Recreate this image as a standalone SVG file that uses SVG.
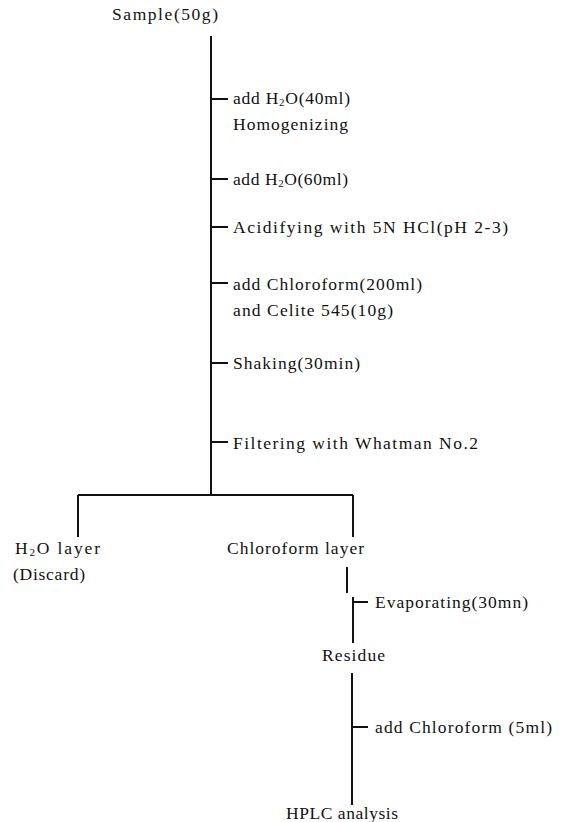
<svg xmlns="http://www.w3.org/2000/svg" width="566" height="822" viewBox="0 0 566 822">
<style>
text{font-family:"Liberation Serif","DejaVu Serif",serif;font-size:17.5px;fill:#111}
.ln{stroke:#111;stroke-width:2;fill:none}
.sub{font-size:11px}
</style>
<rect width="566" height="822" fill="#fff"/>
<g id="connectors">
<path class="ln" d="M211 36V495"/>
<path class="ln" d="M211 99H228M211 179H228M211 227H228M211 283H228M211 363H228M211 442H228"/>
<path class="ln" d="M78 495H353M78 495V537M353 495V537"/>
<path class="ln" d="M347 567V593M353 597V643M353 602H368"/>
<path class="ln" d="M352 673V805M352 727H368"/>
</g>
<g id="sample"><text x="112" y="20" textLength="106" lengthAdjust="spacing">Sample(50g)</text></g>
<g id="step-h2o-40"><text x="233" y="104" textLength="117" lengthAdjust="spacing">add H<tspan class="sub" dy="2">2</tspan><tspan dy="-2">O(40ml)</tspan></text>
<text x="233" y="130" textLength="115" lengthAdjust="spacing">Homogenizing</text></g>
<g id="step-h2o-60"><text x="233" y="185" textLength="115" lengthAdjust="spacing">add H<tspan class="sub" dy="2">2</tspan><tspan dy="-2">O(60ml)</tspan></text></g>
<g id="step-acid"><text x="233" y="233" textLength="275" lengthAdjust="spacing">Acidifying with 5N HCl(pH 2-3)</text></g>
<g id="step-chloroform"><text x="233" y="290" textLength="189" lengthAdjust="spacing">add Chloroform(200ml)</text>
<text x="233" y="316" textLength="160" lengthAdjust="spacing">and Celite 545(10g)</text></g>
<g id="step-shaking"><text x="233" y="369" textLength="127" lengthAdjust="spacing">Shaking(30min)</text></g>
<g id="step-filter"><text x="233" y="449" textLength="245" lengthAdjust="spacing">Filtering with Whatman No.2</text></g>
<g id="h2o-layer"><text x="15" y="554" textLength="85" lengthAdjust="spacing">H<tspan class="sub" dy="2">2</tspan><tspan dy="-2">O layer</tspan></text>
<text x="13" y="580" textLength="72" lengthAdjust="spacing">(Discard)</text></g>
<g id="chloroform-layer"><text x="227" y="554" textLength="137" lengthAdjust="spacing">Chloroform layer</text></g>
<g id="step-evap"><text x="375" y="608" textLength="153" lengthAdjust="spacing">Evaporating(30mn)</text></g>
<g id="residue"><text x="322" y="661" textLength="63" lengthAdjust="spacing">Residue</text></g>
<g id="step-chloroform-5"><text x="375" y="733" textLength="177" lengthAdjust="spacing">add Chloroform (5ml)</text></g>
<g id="hplc"><text x="286" y="819" textLength="112" lengthAdjust="spacing">HPLC analysis</text></g>
</svg>
